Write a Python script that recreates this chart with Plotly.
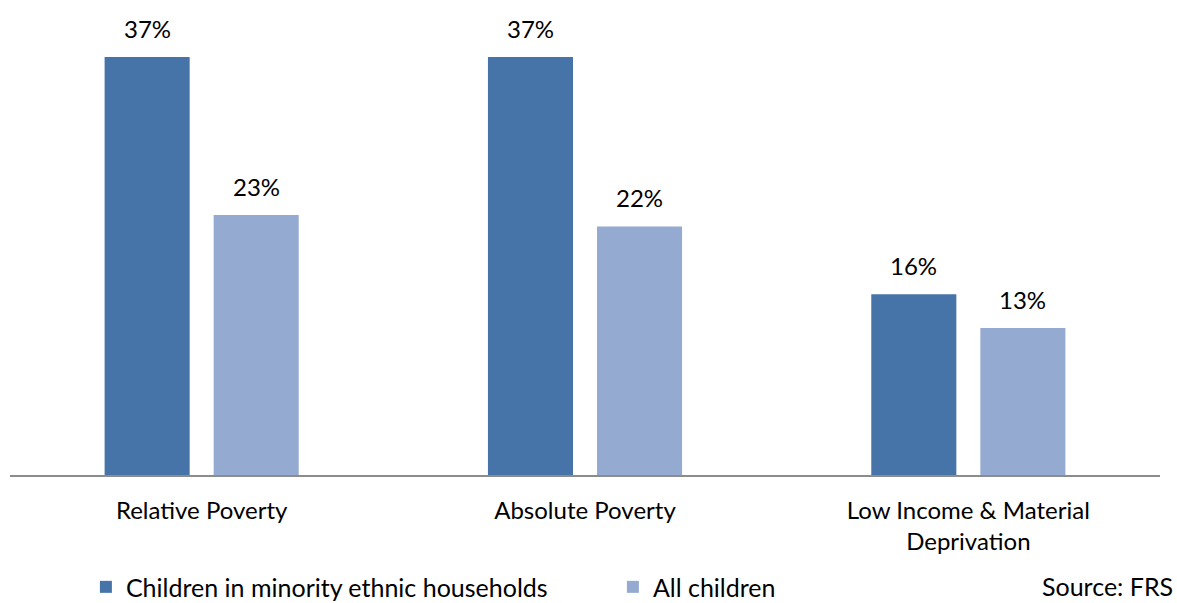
import plotly.graph_objects as go

categories = ["Relative Poverty", "Absolute Poverty", "Low Income & Material<br>Deprivation"]
minority = [37, 37, 16]
all_children = [23, 22, 13]
series_names = ["Children in minority ethnic households", "All children"]
colors = ["#4674A8", "#95AAD1"]

FONT = "Lato"
FS = 24

fig = go.Figure()
for name, vals, col in zip(series_names, [minority, all_children], colors):
    fig.add_trace(go.Bar(x=categories, y=vals, name=name, marker=dict(color=col, line=dict(width=0)),
                         hoverinfo="skip"))

# value labels
for vals, shift in [(minority, -54.5), (all_children, 54.5)]:
    for c, v in zip(categories, vals):
        fig.add_annotation(x=c, y=v, text=f"{v}%", showarrow=False, xshift=shift, yshift=12,
                           yanchor="bottom", font=dict(family=FONT, size=FS, color="#000"))

fig.add_annotation(x=1, xref="paper", xanchor="right", y=-0.246, yref="paper", yanchor="middle",
                   xshift=15, text="Source: FRS", showarrow=False,
                   font=dict(family=FONT, size=25, color="#000"))

fig.update_layout(
    width=1177, height=603,
    margin=dict(l=10, r=17, t=23, b=128, autoexpand=False),
    plot_bgcolor="white", paper_bgcolor="white",
    barmode="group", bargap=0.431, bargroupgap=0.22,
    font=dict(family=FONT, size=FS, color="#000"),
    showlegend=True,
    legend=dict(orientation="h", x=0.066, xanchor="left", y=-0.248, yanchor="middle",
                font=dict(family=FONT, size=25, color="#000"), entrywidth=482,
                itemclick=False, traceorder="normal"),
    xaxis=dict(showline=True, linecolor="#8C8C8C", linewidth=1.5, ticks="", ticklabelstandoff=13,
               tickfont=dict(family=FONT, size=FS, color="#000")),
    yaxis=dict(range=[0, 40], visible=False, showgrid=False, zeroline=False),
)

fig.write_html("out.html", config={"displayModeBar": False},
               post_script="document.body.style.margin='0';document.body.style.overflow='hidden';")
